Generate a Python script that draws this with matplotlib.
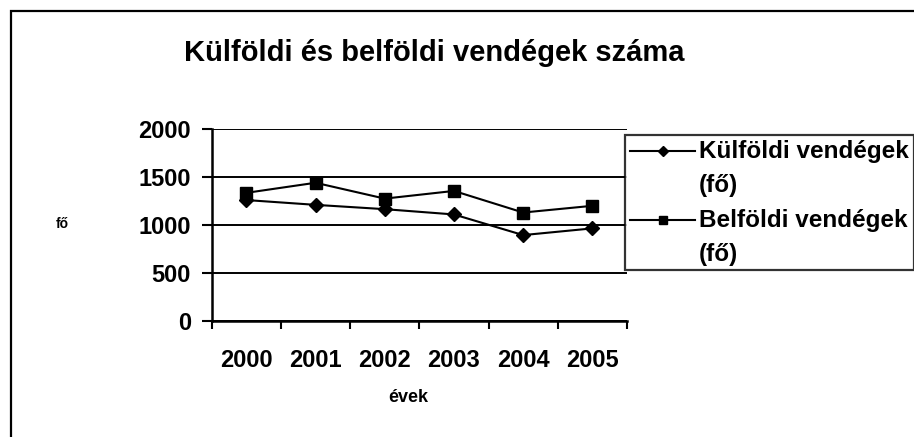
import matplotlib.pyplot as plt
import numpy as np
from matplotlib.patches import Rectangle

# data
years = ["2000", "2001", "2002", "2003", "2004", "2005"]
kulfoldi = [1260, 1210, 1165, 1110, 895, 965]
belfoldi = [1335, 1440, 1275, 1355, 1130, 1200]
yticks = [0, 500, 1000, 1500, 2000]

plt.rcParams['font.family'] = ['Liberation Sans', 'DejaVu Sans']
plt.rcParams['font.weight'] = 'bold'

fig = plt.figure(figsize=(9.14, 4.37), dpi=100)
ax = fig.add_axes([0.2316, 0.2654, 0.4544, 0.4394])

# outer frame of the chart (right/bottom edges fall outside the image)
fig.patches.append(Rectangle((11 / 914, -0.05), 1.1, 1 - 11 / 437 + 0.05,
                             transform=fig.transFigure, fill=False,
                             edgecolor='black', linewidth=1.6))

x = list(range(len(years)))
ax.plot(x, kulfoldi, color='black', lw=1.5, marker='D', markersize=7.5,
        label="Külföldi vendégek\n(fő)")
ax.plot(x, belfoldi, color='black', lw=1.5, marker='s', markersize=9,
        label="Belföldi vendégek\n(fő)")

ax.set_xlim(-0.5, len(years) - 0.5)
ax.set_ylim(0, 2000)
ax.set_yticks(yticks)
ax.set_yticklabels([str(v) for v in yticks], fontsize=17, fontweight='bold')
ax.tick_params(axis='y', direction='out', length=7, width=1.5, pad=8)

ax.set_xticks(x)
ax.set_xticklabels(years, fontsize=17, fontweight='bold')
ax.tick_params(axis='x', which='major', length=0, pad=20)
ax.set_xticks([i - 0.5 for i in range(len(years) + 1)], minor=True)
ax.tick_params(axis='x', which='minor', direction='out', length=6, width=1.5)

ax.yaxis.grid(True, color='black', linewidth=1.4)
ax.set_axisbelow(True)
for s in ['top', 'right']:
    ax.spines[s].set_visible(False)
for s in ['left', 'bottom']:
    ax.spines[s].set_linewidth(1.8)

fig.text(434 / 914, 1 - 53 / 437, "Külföldi és belföldi vendégek száma",
         ha='center', va='center', fontsize=21, fontweight='bold')
fig.text(62 / 914, 1 - 224 / 437, "fő", ha='center', va='center',
         fontsize=10, fontweight='bold')
fig.text(408 / 914, 1 - 398 / 437, "évek", ha='center', va='center',
         fontsize=13, fontweight='bold')

leg = fig.legend(loc='upper left', bbox_to_anchor=(625 / 914, 1 - 135 / 437),
                 bbox_transform=fig.transFigure, frameon=True, fancybox=False,
                 edgecolor='black', handlelength=2.7, markerscale=0.7,
                 borderaxespad=0, borderpad=0.2, labelspacing=0.5,
                 handletextpad=0.15, prop={'weight': 'bold', 'size': 17.5})
leg.get_frame().set_linewidth(1.6)
for t in leg.get_texts():
    t.set_linespacing(1.6)
# handle sits on the first text line, as in the original
for h in leg.legend_handles:
    h.set_ydata(np.asarray(h.get_ydata()) + 13)

fig.savefig("out.png", dpi=100)
